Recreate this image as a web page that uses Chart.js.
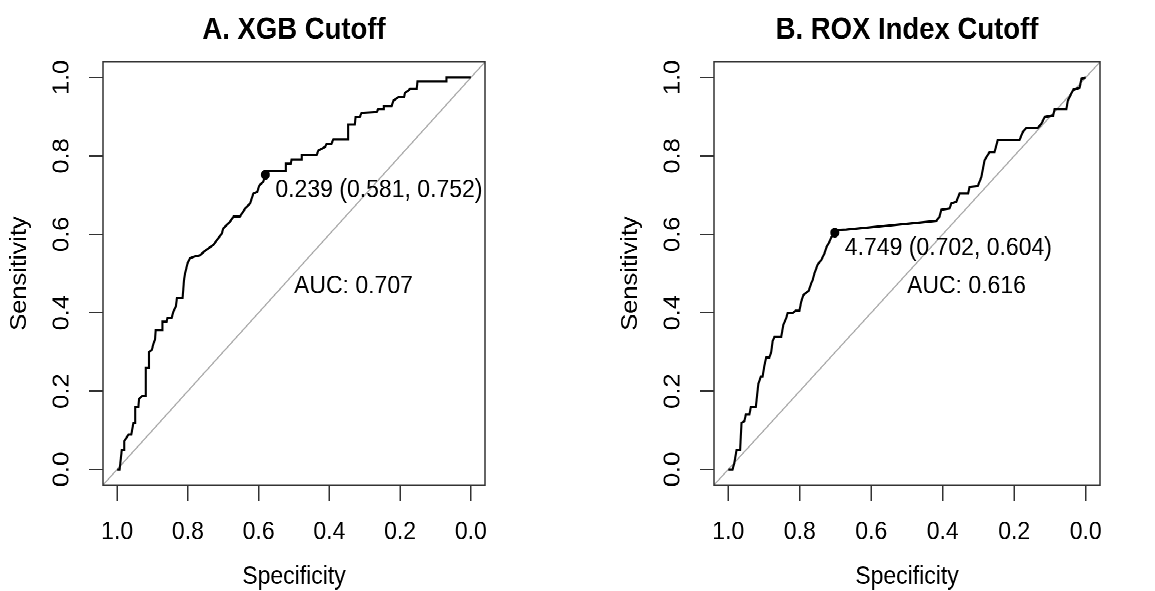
<!DOCTYPE html>
<html>
<head>
<meta charset="utf-8">
<script src="https://cdn.jsdelivr.net/npm/chart.js@4.4.0/dist/chart.umd.min.js"></script>
<style>
  html, body { margin: 0; background: #fff; }
  #page { position: relative; width: 1155px; height: 591px; overflow: hidden; }
  /* the original figure is a square R plot stretched vertically, so stretch the same way */
  #stage { position: absolute; left: 0; top: 0; width: 1155px; height: 535px; transform: scaleY(1.105); transform-origin: 0 0; }
  .panel { position: absolute; top: 0; height: 535px; }
  #panelA { left: 0; width: 578px; }
  #panelB { left: 578px; width: 577px; }
</style>
</head>
<body>
<div id="page">
  <div id="stage">
    <div class="panel" id="panelA"><canvas id="rocA"></canvas></div>
    <div class="panel" id="panelB"><canvas id="rocB"></canvas></div>
  </div>
</div>
<script>
const tickValues = [0, 0.2, 0.4, 0.6, 0.8, 1.0];
const axisMin = -0.04;
const axisMax = 1.04;

// A. XGB model
const xgbSpecificity = [1.0, 0.993, 0.987, 0.980, 0.980, 0.968, 0.960, 0.954, 0.949, 0.949,
  0.940, 0.938, 0.930, 0.921, 0.919, 0.911, 0.910, 0.902, 0.897, 0.893,
  0.891, 0.872, 0.872, 0.860, 0.858, 0.846, 0.841, 0.834, 0.831, 0.815,
  0.811, 0.808, 0.801, 0.794, 0.782, 0.766, 0.754, 0.742, 0.728, 0.718,
  0.704, 0.700, 0.681, 0.671, 0.653, 0.638, 0.624, 0.615, 0.604, 0.598,
  0.587, 0.581, 0.577, 0.525, 0.523, 0.509, 0.507, 0.478, 0.478, 0.436,
  0.431, 0.412, 0.408, 0.394, 0.389, 0.347, 0.347, 0.328, 0.326, 0.314,
  0.309, 0.266, 0.262, 0.248, 0.246, 0.224, 0.219, 0.205, 0.189, 0.186,
  0.177, 0.172, 0.153, 0.151, 0.069, 0.069, 0.0];
const xgbSensitivity = [0, 0, 0.049, 0.049, 0.072, 0.089, 0.089, 0.119, 0.119, 0.159,
  0.159, 0.180, 0.187, 0.187, 0.259, 0.259, 0.299, 0.305, 0.322, 0.331,
  0.356, 0.356, 0.377, 0.377, 0.386, 0.386, 0.403, 0.416, 0.437, 0.437,
  0.483, 0.500, 0.526, 0.539, 0.543, 0.546, 0.556, 0.564, 0.573, 0.585,
  0.602, 0.615, 0.632, 0.645, 0.645, 0.666, 0.679, 0.704, 0.708, 0.725,
  0.734, 0.752, 0.762, 0.762, 0.780, 0.780, 0.791, 0.791, 0.802, 0.802,
  0.814, 0.823, 0.831, 0.831, 0.842, 0.842, 0.880, 0.880, 0.899, 0.899,
  0.910, 0.912, 0.920, 0.920, 0.927, 0.927, 0.941, 0.950, 0.950, 0.961,
  0.967, 0.971, 0.971, 0.990, 0.990, 1.0, 1.0];
const xgbBest = [0.581, 0.752];
const xgbThreshold = '0.239';
const xgbAuc = '0.707';

// B. ROX index
const roxSpecificity = [1.0, 0.988, 0.983, 0.977, 0.967, 0.963, 0.955, 0.951, 0.941, 0.937,
  0.923, 0.916, 0.909, 0.904, 0.899, 0.894, 0.885, 0.880, 0.876, 0.871,
  0.852, 0.846, 0.838, 0.834, 0.820, 0.812, 0.801, 0.796, 0.790, 0.775,
  0.768, 0.764, 0.759, 0.750, 0.740, 0.731, 0.725, 0.717, 0.712, 0.702,
  0.694, 0.670, 0.418, 0.409, 0.404, 0.381, 0.376, 0.362, 0.353, 0.329,
  0.325, 0.302, 0.292, 0.283, 0.269, 0.255, 0.246, 0.185, 0.176, 0.166,
  0.134, 0.124, 0.115, 0.091, 0.087, 0.054, 0.050, 0.035, 0.017, 0.012, 0.0];
const roxSensitivity = [0, 0, 0.017, 0.049, 0.049, 0.119, 0.123, 0.140, 0.140, 0.159,
  0.159, 0.218, 0.237, 0.237, 0.265, 0.286, 0.286, 0.299, 0.327, 0.338,
  0.338, 0.369, 0.386, 0.399, 0.399, 0.405, 0.405, 0.428, 0.445, 0.456,
  0.475, 0.483, 0.500, 0.523, 0.534, 0.551, 0.568, 0.581, 0.592, 0.604,
  0.611, 0.612, 0.634, 0.645, 0.663, 0.666, 0.679, 0.683, 0.704, 0.704,
  0.721, 0.723, 0.746, 0.789, 0.810, 0.810, 0.841, 0.841, 0.861, 0.872,
  0.872, 0.882, 0.899, 0.903, 0.920, 0.920, 0.941, 0.969, 0.974, 0.997, 1.0];
const roxBest = [0.702, 0.604];
const roxThreshold = '4.749';
const roxAuc = '0.616';

const fontFamily = '"Liberation Sans", Arial, Helvetica, sans-serif';
const textFont = { family: fontFamily, size: 23, lineHeight: 1.2 };

// box around the plot plus the pROC-style annotations
const frameAndText = {
  id: 'frameAndText',
  afterDraw(chart, args, opts) {
    const { ctx, chartArea: a, scales: { x, y } } = chart;
    ctx.save();
    ctx.strokeStyle = '#333';
    ctx.lineWidth = 1.5;
    ctx.strokeRect(a.left, a.top, a.right - a.left, a.bottom - a.top);
    ctx.fillStyle = '#000';
    ctx.font = '23px ' + fontFamily;
    const px = x.getPixelForValue(opts.best[0]);
    const py = y.getPixelForValue(opts.best[1]);
    ctx.textAlign = 'left';
    ctx.textBaseline = 'middle';
    ctx.fillText(opts.thresholdText, px + 10, py + 14);
    // AUC text sits at (0.5, 0.5), left/top aligned
    ctx.textBaseline = 'top';
    ctx.fillText(opts.aucText, x.getPixelForValue(0.5), y.getPixelForValue(0.5));
    ctx.restore();
  }
};

function makeRoc(canvasId, title, spec, sens, best, threshold, auc, padLeft, padRight) {
  const curve = spec.map((s, i) => ({ x: s, y: sens[i] }));
  const diagonal = [{ x: axisMax, y: 1 - axisMax }, { x: axisMin, y: 1 - axisMin }];
  const axisCommon = {
    type: 'linear',
    min: axisMin,
    max: axisMax,
    afterBuildTicks: s => { s.ticks = tickValues.map(v => ({ value: v })); },
    grid: { drawOnChartArea: false, drawTicks: true, tickLength: 14, color: '#333', lineWidth: 1.5 },
    border: { display: false }
  };
  return new Chart(document.getElementById(canvasId), {
    type: 'scatter',
    data: {
      datasets: [
        { data: [{ x: best[0], y: best[1] }], pointRadius: 4.5, pointBackgroundColor: '#000', pointBorderWidth: 0, order: 0 },
        { data: curve, showLine: true, borderColor: '#000', borderWidth: 2.1, pointRadius: 0, fill: false, order: 1 },
        { data: diagonal, showLine: true, borderColor: '#aaaaaa', borderWidth: 1.2, pointRadius: 0, fill: false, order: 2 }
      ]
    },
    options: {
      responsive: true,
      maintainAspectRatio: false,
      devicePixelRatio: 2,
      animation: false,
      layout: { padding: { left: padLeft, right: padRight, top: 0, bottom: 0 } },
      plugins: {
        legend: { display: false },
        tooltip: { enabled: false },
        title: {
          display: true, text: title, color: '#000', fullSize: false,
          font: { family: fontFamily, size: 27.5, weight: 'bold', lineHeight: 1.2 },
          padding: { top: 11, bottom: 12 }
        },
        frameAndText: { best: best, thresholdText: threshold + ' (' + best[0].toFixed(3) + ', ' + best[1].toFixed(3) + ')', aucText: 'AUC: ' + auc }
      },
      scales: {
        x: Object.assign({}, axisCommon, {
          reverse: true,
          afterFit: s => { s.height = 96; },
          ticks: { color: '#000', font: textFont, padding: 15, maxRotation: 0, autoSkip: false, callback: v => v.toFixed(1) },
          title: { display: true, text: 'Specificity', color: '#000', font: { family: fontFamily, size: 23, lineHeight: 1.1 }, padding: { top: 0, bottom: 0 } }
        }),
        y: Object.assign({}, axisCommon, {
          afterFit: s => { s.width = 103; },
          ticks: { color: '#000', font: textFont, padding: 11, minRotation: 90, maxRotation: 90, crossAlign: 'center', autoSkip: false, callback: v => v.toFixed(1) },
          title: { display: true, text: 'Sensitivity', color: '#000', font: textFont, padding: { top: 6, bottom: 0 } }
        })
      }
    },
    plugins: [frameAndText]
  });
}

makeRoc('rocA', 'A. XGB Cutoff', xgbSpecificity, xgbSensitivity, xgbBest, xgbThreshold, xgbAuc, 0, 93);
makeRoc('rocB', 'B. ROX Index Cutoff', roxSpecificity, roxSensitivity, roxBest, roxThreshold, roxAuc, 33, 55);
</script>
</body>
</html>
